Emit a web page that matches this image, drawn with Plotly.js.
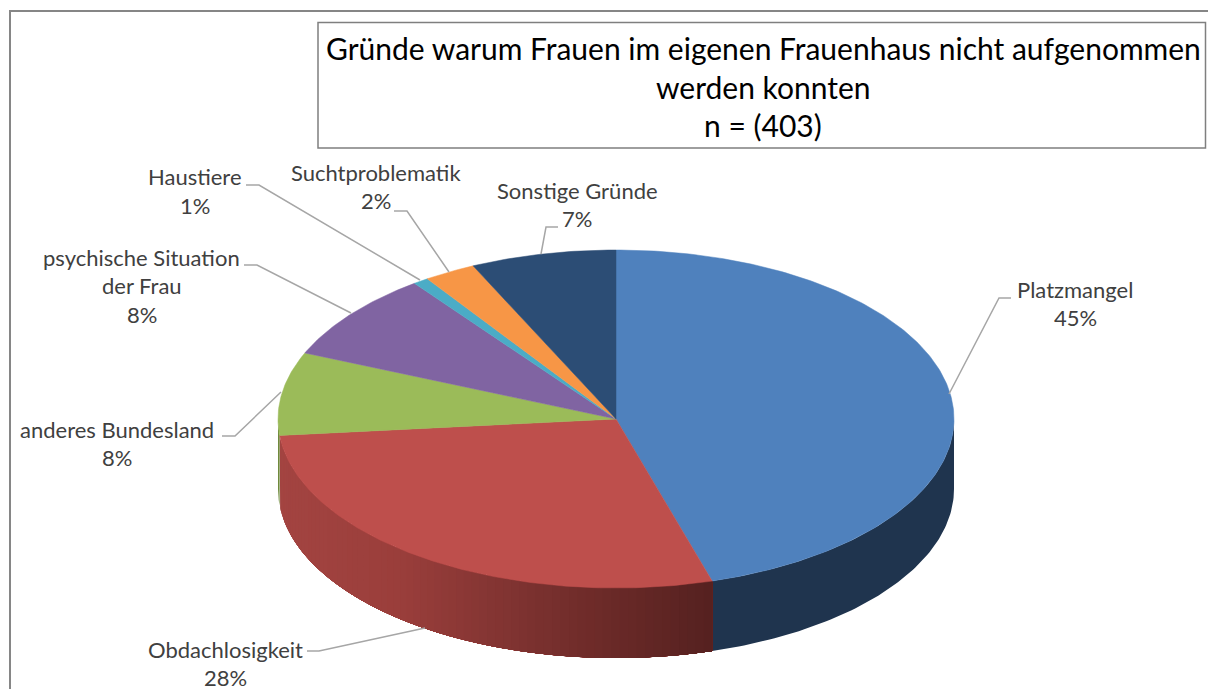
<!DOCTYPE html>
<html><head><meta charset="utf-8">
<script src="https://cdn.plot.ly/plotly-3.0.1.min.js"></script>
<style>html,body{margin:0;padding:0;background:#fff;overflow:hidden}#c{width:1208px;height:689px}</style>
</head><body><div id="c"></div>
<script>
const categories = ["Platzmangel","Obdachlosigkeit","anderes Bundesland","psychische Situation der Frau","Haustiere","Suchtproblematik","Sonstige Gründe"];
const values = [183,113,32,34,3,10,28];
const sliceColors = ["#4f81bd","#be4f4c","#9bbb59","#8064a2","#4bacc6","#f79646","#2c4d75"];
const wallColors = ["#1f344e",null,"#6f8a3c"];
const redWallStops = [[279,"#a34441"],[400,"#9a3e3b"],[514,"#7f3331"],[593,"#6e2b29"],[712,"#552120"]];
const titleLines = ["Gründe warum Frauen im eigenen Frauenhaus nicht aufgenommen","werden konnten","n = (403)"];
const labelLines = [["Platzmangel"],["Obdachlosigkeit"],["anderes Bundesland"],["psychische Situation","der Frau"],["Haustiere"],["Suchtproblematik"],["Sonstige Gründe"]];
const labelAnchors = [[1075,289],[225,649],[117,429],[141.5,257],[194.5,176.5],[375.5,172],[577,190]];
const leaders = ["M949,394L999,298L1011,298","M425,628L319,651L307,651","M281,392L235,436L222,436","M351,313L257,265L244,265","M420,280L259,185L246,185","M449,272L407,211L394,211","M541,254L546,227L558,227"];

const CX=616, CY=419, RX=338, RY=169, DEPTH=70, TXT="#404040", FONT="Lato, Carlito, Calibri, sans-serif";
const total = values.reduce((a,b)=>a+b,0);
const px = t => CX+RX*Math.sin(t), py = t => CY-RY*Math.cos(t);
const hex = c => [1,3,5].map(i=>parseInt(c.substr(i,2),16));
function redAt(x){
  for(let i=0;i<redWallStops.length-1;i++){
    const [a,ca]=redWallStops[i],[b,cb]=redWallStops[i+1];
    if(x<=b||i===redWallStops.length-2){
      const f=Math.max(0,Math.min(1,(x-a)/(b-a))),A=hex(ca),B=hex(cb);
      return "rgb("+A.map((v,k)=>Math.round(v+(B[k]-v)*f)).join(",")+")";
    }
  }
}
const traces=[]; const tops=[];
function poly(xs,ys,color,lw){
  return {type:"scatter",mode:"lines",x:xs,y:ys,fill:"toself",fillcolor:color,
    line:{color:color,width:lw,shape:"linear"},hoverinfo:"skip",showlegend:false};
}
function wall(t0,t1,color){
  const n=Math.max(2,Math.ceil((t1-t0)*60)),xs=[],ys=[];
  for(let i=0;i<=n;i++){const t=t0+(t1-t0)*i/n;xs.push(px(t));ys.push(py(t));}
  for(let i=n;i>=0;i--){const t=t0+(t1-t0)*i/n;xs.push(px(t));ys.push(py(t)+DEPTH);}
  xs.push(xs[0]);ys.push(ys[0]);
  return poly(xs,ys,color,0);
}
let cum=0;
values.forEach((v,i)=>{
  const t0=cum/total*2*Math.PI; cum+=v; const t1=cum/total*2*Math.PI;
  const a=Math.max(t0,Math.PI/2), b=Math.min(t1,1.5*Math.PI);
  if(b>a){
    if(i===1){
      const N=70;
      for(let k=N-1;k>=0;k--){
        // painted from the far (left) end towards the right, each band running on to the slice end's opposite side
        const s0=a+(b-a)*k/N,s1=a+(b-a)*(k+1)/N;
        traces.push(wall(a,s1,redAt((px(s0)+px(s1))/2)));
      }
    } else traces.push(wall(a,b,wallColors[i]||sliceColors[i]));
  }
  const n=Math.max(3,Math.ceil((t1-t0)*80)),xs=[CX],ys=[CY];
  for(let k=0;k<=n;k++){const t=t0+(t1-t0)*k/n;xs.push(px(t));ys.push(py(t));}
  xs.push(CX);ys.push(CY);
  tops.push(poly(xs,ys,sliceColors[i],0.5));
});
const data=traces.concat(tops);

const ann=[];
function put(text,x,y,size,color){
  ann.push({text:text,x:x,y:y,xref:"x",yref:"y",xanchor:"center",yanchor:"middle",showarrow:false,
    font:{family:FONT,size:size,color:color}});
}
titleLines.forEach((s,i)=>put(s,763,48+i*38.5,30,"#000"));
labelLines.forEach((ls,i)=>{
  const [x,y]=labelAnchors[i];
  ls.concat([Math.round(values[i]/total*100)+"%"]).forEach((s,j)=>put(s,x,y+j*28.7,22,TXT));
});
const shapes=[
  {type:"path",path:"M10,720L10,11L1230,11",line:{color:"#868686",width:2}},
  {type:"rect",x0:318,x1:1205.5,y0:22.5,y1:148,line:{color:"#7f7f7f",width:1.5},fillcolor:"#fff"}
].concat(leaders.map(p=>({type:"path",path:p,line:{color:"#a6a6a6",width:1.5}})));
const off={visible:false,fixedrange:true,autorange:false};
Plotly.newPlot("c",data,{
  width:1208,height:689,margin:{l:0,r:0,t:0,b:0},paper_bgcolor:"#fff",plot_bgcolor:"#fff",showlegend:false,
  xaxis:Object.assign({range:[0,1208]},off),yaxis:Object.assign({range:[689,0]},off),
  shapes:shapes,annotations:ann,hovermode:false
},{displayModeBar:false,staticPlot:true});
</script></body></html>
